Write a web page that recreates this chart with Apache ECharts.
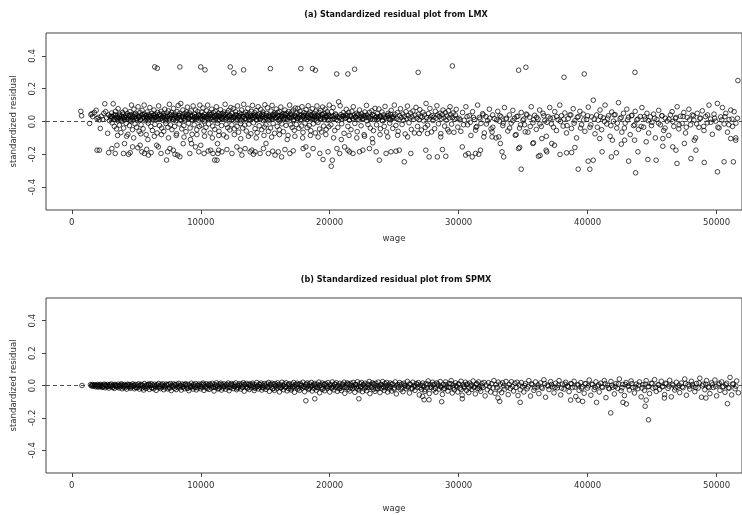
<!DOCTYPE html>
<html>
<head>
<meta charset="utf-8">
<script src="https://cdn.jsdelivr.net/npm/echarts@6/dist/echarts.min.js"></script>
<style>
html, body { margin: 0; padding: 0; background: #fff; }
#chart { width: 742px; height: 515px; }
</style>
</head>
<body>
<div id="chart"></div>
<script>
// axis ticks and titles
var xTicks = [0, 10000, 20000, 30000, 40000, 50000];
var yTicks = [-0.4, -0.2, 0, 0.2, 0.4];
var panelTitles = ['(a) Standardized residual plot from LMX', '(b) Standardized residual plot from SPMX'];

// (a) LMX residuals: [wage, standardized residual]
var lmxBandA = [[700,.062],[760,.035],[1380,-.012],[1480,.042],[1560,.048],[1620,.03],[1750,.055],[1890,.068],[1960,.018],[2050,.025],[2130,.01],[2210,-.042],[2290,.032],[2400,.012],[2480,.05],[2560,.108],[2630,.06],[2700,.022],[2780,-.072],[2850,.04],[2920,.005],[2980,.03],
[3040,.018],[3090,.052],[3130,-.008],[3180,.028],[3210,.108],[3260,.04],[3300,-.03],[3340,.012],[3390,.062],[3430,.022],[3470,-.045],[3510,.034],[3560,.005],[3590,.078],[3640,.024],[3690,-.022],[3720,.045],[3760,.015],[3810,-.068],[3850,.032],[3890,.002],[3930,.055],[3980,.02],[4020,-.04],[4060,.03],[4100,.01],[4140,.07],[4190,.038],[4220,-.012],[4270,.025],[4310,.048],[4350,-.078],[4390,.015],[4430,.032],[4470,-.025],[4510,.06],[4550,.008],[4590,.042],[4630,.1],[4670,.022],[4710,-.05],[4740,.035],[4780,.012],[4820,.075],[4860,.028],[4900,-.015],[4940,.05],[4980,.018],
[5020,-.035],[5060,.04],[5100,.006],[5140,.09],[5180,.025],[5220,-.06],[5250,.03],[5290,.055],[5330,.012],[5370,-.02],[5410,.038],[5450,.068],[5490,.02],[5530,-.045],[5570,.028],[5610,.1],[5650,.045],[5690,.005],[5730,.032],[5770,-.08],[5810,.018],[5850,.058],[5890,.026],[5930,-.01],[5970,.042],[6010,.015],[6050,.085],[6090,.035],[6130,-.03],[6170,.022],[6210,.05],[6250,-.055],[6290,.01],[6330,.038],[6370,.07],[6410,.025],[6450,-.018],[6490,.045],[6530,.012],[6570,.03],[6610,-.07],[6650,.055],[6690,.02],[6730,.095],[6770,.04],[6810,-.025],[6850,.015],[6890,.034],[6930,.062],[6970,-.04],
[7010,.028],[7050,.008],[7090,.048],[7130,-.06],[7170,.022],[7210,.075],[7250,.036],[7290,-.012],[7330,.018],[7370,.052],[7410,.03],[7450,-.035],[7490,.065],[7530,.01],[7570,.105],[7610,.04],[7650,-.02],[7690,.025],[7730,.055],[7770,-.05],[7810,.015],[7850,.038],[7890,.08],[7930,.022],[7970,-.03],[8010,.045],[8050,.005],[8090,.03],[8130,-.075],[8170,.06],[8210,.018],[8250,.098],[8290,.035],[8330,-.015],[8370,.05],[8410,.012],[8450,.11],[8490,.028],[8530,-.045],[8570,.04],[8610,.07],[8650,.02],[8690,-.025],[8730,.048],[8770,.008],[8810,.032],[8850,-.062],[8890,.058],[8930,.025],[8970,.088],
[9010,.04],[9050,-.01],[9090,.02],[9130,.052],[9170,-.04],[9210,.03],[9250,.065],[9290,.012],[9330,-.078],[9370,.035],[9410,.095],[9450,.022],[9490,-.02],[9530,.045],[9570,.015],[9610,.07],[9650,.03],[9690,-.05],[9730,.025],[9770,.06],[9810,.008],[9850,.04],[9890,-.03],[9930,.1],[9970,.028]];

var lmxBandB = [[10010,.035],[10050,-.022],[10090,.058],[10130,.015],[10170,.082],[10210,.03],[10250,-.058],[10290,.045],[10330,.01],[10370,.025],[10410,-.035],[10450,.065],[10490,.02],[10530,.1],[10570,.04],[10610,-.015],[10650,.03],[10690,.052],[10730,-.07],[10770,.018],[10810,.042],[10850,.075],[10890,.025],[10930,-.028],[10970,.055],
[11010,.008],[11050,.035],[11090,-.048],[11130,.062],[11170,.02],[11210,.09],[11250,.038],[11290,-.01],[11330,.028],[11370,.05],[11410,-.06],[11450,.012],[11490,.04],[11530,.072],[11570,.022],[11610,-.025],[11650,.048],[11690,.015],[11730,.032],[11770,-.082],[11810,.058],[11850,.025],[11890,.105],[11930,.042],[11970,-.018],
[12010,.02],[12050,.055],[12090,-.038],[12130,.03],[12170,.068],[12210,.01],[12250,-.052],[12290,.036],[12330,.085],[12370,.024],[12410,-.02],[12450,.048],[12490,.014],[12530,.078],[12570,.032],[12610,-.045],[12650,.026],[12690,.06],[12730,.004],[12770,.04],[12810,-.03],[12850,.095],[12890,.028],[12930,-.065],[12970,.035],
[13010,.052],[13050,.016],[13090,-.012],[13130,.044],[13170,.07],[13210,.022],[13250,-.04],[13290,.03],[13330,.105],[13370,.045],[13410,-.022],[13450,.018],[13490,.056],[13530,-.058],[13570,.012],[13610,.038],[13650,.08],[13690,.026],[13730,-.016],[13770,.048],[13810,.01],[13850,.032],[13890,-.075],[13930,.062],[13970,.02],
[14010,.098],[14050,.036],[14090,-.008],[14130,.024],[14170,.054],[14210,-.044],[14250,.03],[14290,.066],[14330,.014],[14370,-.068],[14410,.04],[14450,.09],[14490,.022],[14530,-.026],[14570,.046],[14610,.012],[14650,.074],[14690,.034],[14730,-.05],[14770,.028],[14810,.058],[14850,.006],[14890,.042],[14930,-.034],[14970,.102],
[15010,.026],[15050,-.02],[15090,.05],[15130,.016],[15170,.084],[15210,.03],[15250,-.06],[15290,.038],[15330,.01],[15370,.028],[15410,-.04],[15450,.064],[15490,.022],[15530,.098],[15570,.04],[15610,-.012],[15650,.032],[15690,.052],[15730,-.072],[15770,.02],[15810,.044],[15850,.076],[15890,.024],[15930,-.03],[15970,.056],
[16010,.01],[16050,.036],[16090,-.05],[16130,.06],[16170,.018],[16210,.088],[16250,.04],[16290,-.014],[16330,.03],[16370,.048],[16410,-.062],[16450,.014],[16490,.042],[16530,.07],[16570,.02],[16610,-.024],[16650,.05],[16690,.016],[16730,.034],[16770,-.085],[16810,.06],[16850,.026],[16890,.1],[16930,.044],[16970,-.02],
[17010,.022],[17050,.058],[17090,-.036],[17130,.028],[17170,.07],[17210,.012],[17250,-.054],[17290,.038],[17330,.082],[17370,.026],[17410,-.018],[17450,.05],[17490,.016],[17530,.08],[17570,.03],[17610,-.042],[17650,.024],[17690,.062],[17730,.006],[17770,.04],[17810,-.028],[17850,.09],[17890,.03],[17930,-.066],[17970,.036],
[18010,.054],[18050,.018],[18090,-.01],[18130,.046],[18170,.072],[18210,.024],[18250,-.038],[18290,.032],[18330,.096],[18370,.046],[18410,-.024],[18450,.02],[18490,.058],[18530,-.056],[18570,.014],[18610,.04],[18650,.078],[18690,.028],[18730,-.014],[18770,.05],[18810,.012],[18850,.034],[18890,-.07],[18930,.064],[18970,.022],
[19010,.095],[19050,.038],[19090,-.006],[19130,.026],[19170,.056],[19210,-.046],[19250,.032],[19290,.068],[19330,.016],[19370,-.064],[19410,.042],[19450,.088],[19490,.024],[19530,-.028],[19570,.048],[19610,.014],[19650,.076],[19690,.036],[19730,-.048],[19770,.03],[19810,.06],[19850,.008],[19890,.044],[19930,-.032],[19970,.1]];

var lmxBandC = [[20030,.03],[20090,-.02],[20150,.06],[20210,.014],[20270,.085],[20330,.034],[20390,-.055],[20450,.046],[20510,.012],[20570,.028],[20630,-.036],[20690,.12],[20750,.022],[20810,.096],[20870,.042],[20930,-.014],[20990,.032],[21050,.054],[21110,-.072],[21170,.018],[21230,.04],[21290,.074],[21350,.026],[21410,-.03],[21470,.056],[21530,.01],[21590,.036],[21650,-.05],[21710,.062],[21770,.02],[21830,.09],[21890,.04],[21950,-.012],
[22010,.028],[22070,.05],[22130,-.062],[22190,.014],[22250,.042],[22310,.07],[22370,.024],[22430,-.026],[22490,.046],[22550,.016],[22610,.034],[22670,-.08],[22730,.058],[22790,.024],[22850,.098],[22910,.04],[22970,-.018],[23030,.022],[23090,.056],[23150,-.04],[23210,.03],[23270,.066],[23330,.012],[23390,-.056],[23450,.036],[23510,.08],[23570,.022],[23630,-.02],[23690,.048],[23750,.014],[23810,.076],[23870,.03],[23930,-.044],[23990,.026],
[24050,.058],[24110,.004],[24170,.04],[24230,-.03],[24290,.092],[24350,.028],[24410,-.064],[24470,.034],[24530,.05],[24590,.016],[24650,-.01],[24710,.044],[24770,.068],[24830,.02],[24890,-.042],[24950,.03],[25010,.1],[25070,.044],[25130,-.024],[25190,.018],[25250,.054],[25310,-.06],[25370,.01],[25430,.036],[25490,.078],[25550,.024],[25610,-.018],[25670,.046],[25730,.008],[25790,.03],[25850,-.076],[25910,.06],[25970,.018],
[26030,.094],[26090,.036],[26150,-.008],[26210,.022],[26270,.052],[26330,-.048],[26390,.028],[26450,.064],[26510,.012],[26570,-.07],[26630,.038],[26690,.086],[26750,.02],[26810,-.03],[26870,.044],[26930,.01],[26990,.072],[27050,.032],[27110,-.052],[27170,.026],[27230,.056],[27290,.004],[27350,.04],[27410,-.036],[27470,.11],[27530,.024],[27590,-.022],[27650,.048],[27710,.014],[27770,.08],[27830,.028],[27890,-.064],[27950,.036],
[28010,.006],[28070,.026],[28130,-.044],[28190,.062],[28250,.02],[28310,.096],[28370,.04],[28430,-.014],[28490,.03],[28550,.05],[28610,-.074],[28670,.016],[28730,.042],[28790,.07],[28850,.022],[28910,-.028],[28970,.054],[29030,.008],[29090,.034],[29150,-.05],[29210,.066],[29270,.022],[29330,.09],[29390,.04],[29450,-.016],[29510,.024],[29570,.052],[29630,-.066],[29690,.014],[29750,.04],[29810,.074],[29870,.018],[29930,-.034]];

var lmxBandD = [[30040,.02],[30170,-.06],[30300,.055],[30430,.008],[30560,.09],[30690,-.02],[30820,.035],[30950,-.085],[31080,.06],[31210,.012],[31340,-.035],[31470,.1],[31600,.025],[31730,-.012],[31860,.048],[31990,-.07],[32120,.03],[32250,.005],[32380,.075],[32510,-.045],[32640,.04],[32770,.018],[32900,-.1],[33030,.062],[33160,.002],[33290,.028],[33420,-.025],[33550,.085],[33680,.014],[33810,-.058],[33940,.04],
[34070,-.01],[34200,.068],[34330,.02],[34460,-.08],[34590,.032],[34720,-.04],[34850,.055],[34980,.008],[35110,-.02],[35240,.045],[35370,-.065],[35500,.026],[35630,.09],[35760,-.008],[35890,.038],[36020,-.048],[36150,.015],[36280,.07],[36410,-.03],[36540,.05],[36670,.004],[36800,-.09],[36930,.03],[37060,.085],[37190,-.015],[37320,.022],[37450,.06],[37580,-.055],[37710,.01],[37840,.1],[37970,.035],
[38100,-.028],[38230,.052],[38360,-.07],[38490,.018],[38620,.04],[38750,-.042],[38880,.078],[39010,.005],[39140,-.1],[39270,.03],[39400,.062],[39530,-.02],[39660,.045],[39790,-.06],[39920,.012],[40050,.088],[40180,-.035],[40310,.028],[40440,.13],[40570,-.075],[40700,.04],[40830,.008],[40960,.07],[41090,-.05],[41220,.022],[41350,.1],[41480,-.015],[41610,.035],[41740,-.09],[41870,.058],
[42000,.002],[42130,.042],[42260,-.04],[42390,.115],[42520,.018],[42650,-.065],[42780,.05],[42910,-.01],[43040,.075],[43170,.026],[43300,-.08],[43430,.038],[43560,-.025],[43690,.062],[43820,.01],[43950,-.048],[44080,.03],[44210,.085],[44340,-.035],[44470,.015],[44600,.05],[44730,-.07],[44860,.028],[44990,-.005],[45120,.045],[45250,-.1],[45380,.012],[45510,.068],[45640,-.02],[45770,.035],[45900,-.055],
[46030,.02],[46160,.002],[46290,-.085],[46420,.04],[46550,.06],[46680,-.03],[46810,.018],[46940,.09],[47070,-.045],[47200,.032],[47330,-.012],[47460,.055],[47590,-.07],[47720,.025],[47850,.075],[47980,-.02],[48110,.04],[48240,.008],[48370,-.1],[48500,.05],[48630,-.035],[48760,.02],[48890,.065],[49020,-.055],[49150,.03],[49280,-.008],[49410,.1],[49540,.015],[49670,-.078],[49800,.045],[49930,.002],
[50060,.11],[50190,-.04],[50320,.028],[50450,.085],[50580,-.015],[50710,.05],[50840,-.065],[50970,.012],[51100,.07],[51230,-.03],[51360,.06],[51490,-.1],[51620,.02],
[30100,.01],[30380,-.02],[30650,.03],[30900,-.005],[31150,.025],[31400,-.03],[31650,.015],[31900,.04],[32150,-.015],[32400,.02],[32650,-.035],[32950,.01],[33200,.035],[33450,-.01],[33700,.02],[33950,-.04],[34200,.005],[34500,.03],[34800,-.02],[35050,.015],[35300,.04],[35550,-.03],[35800,.01],[36050,.025],[36300,-.015],[36600,.035],[36850,-.005],[37100,.02],[37350,-.035],[37600,.03],[37900,0],
[38150,.015],[38400,-.025],[38700,.04],[38950,-.01],[39200,.025],[39450,-.04],[39700,.01],[40000,.035],[40250,-.02],[40500,.015],[40750,-.035],[41000,.03],[41300,0],[41550,.02],[41800,-.025],[42050,.04],[42300,-.01],[42600,.025],[42850,-.04],[43100,.01],[43400,.035],[43650,-.02],[43900,.015],[44150,-.03],[44400,.03],[44700,.005],[44950,-.025],[45200,.02],[45500,-.01],[45750,.035],
[46000,-.04],[46300,.015],[46600,0],[46850,.025],[47100,-.02],[47400,.03],[47650,-.035],[47900,.01],[48200,.035],[48450,-.015],[48700,.02],[49000,-.03],[49300,.04],[49550,-.005],[49850,.02],[50100,-.035],[50400,.01],[50650,.03],[50950,-.02],[51200,.015],[51500,-.01]];

// the dark core of the LMX band
var lmxCore = [[3080,.03],[3230,.012],[3380,.04],[3530,.02],[3680,.035],[3830,.008],[3980,.045],[4130,.025],[4280,.015],[4430,.038],[4580,.002],[4730,.028],[4880,.042],[5030,.018],[5180,.032],[5330,.01],[5480,.044],[5630,.022],[5780,.036],[5930,.005],[6080,.03],[6230,.016],[6380,.04],[6530,.026],[6680,.012],[6830,.046],[6980,.02],[7130,.034],[7280,.004],[7430,.028],
[7580,.018],[7730,.042],[7880,.01],[8030,.032],[8180,.024],[8330,.038],[8480,.006],[8630,.03],[8780,.016],[8930,.044],[9080,.022],[9230,.036],[9380,.008],[9530,.028],[9680,.014],[9830,.04],[9980,.02],[10130,.034],[10280,.002],[10430,.03],[10580,.018],[10730,.042],[10880,.012],[11030,.026],[11180,.038],[11330,.006],[11480,.032],[11630,.02],[11780,.044],[11930,.014],
[12080,.028],[12230,.036],[12380,.01],[12530,.024],[12680,.04],[12830,.016],[12980,.032],[13130,.004],[13280,.03],[13430,.02],[13580,.042],[13730,.012],[13880,.034],[14030,.026],[14180,.038],[14330,.008],[14480,.03],[14630,.018],[14780,.044],[14930,.022],[15080,.036],[15230,.01],[15380,.028],[15530,.014],[15680,.04],[15830,.024],[15980,.032],[16130,.002],[16280,.03],[16430,.018],
[16580,.042],[16730,.01],[16880,.026],[17030,.038],[17180,.006],[17330,.032],[17480,.02],[17630,.044],[17780,.014],[17930,.028],[18080,.036],[18230,.012],[18380,.024],[18530,.04],[18680,.016],[18830,.03],[18980,.004],[19130,.034],[19280,.02],[19430,.042],[19580,.01],[19730,.026],[19880,.036],[20030,.012],[20180,.03],[20330,.018],[20480,.04],[20630,.006],[20780,.028],[20930,.016],
[21080,.034],[21230,.022],[21380,.038],[21530,.008],[21680,.03],[21830,.014],[21980,.026],[22130,.04],[22280,.01],[22430,.032],[22580,.02],[22730,.036],[22880,.004],[23030,.028],[23180,.016],[23330,.042],[23480,.012],[23630,.03],[23780,.022],[23930,.034],[24080,.006],[24230,.026],[24380,.018],[24530,.038],[24680,.01],[24830,.028],[24980,.02]];

var lmxMid = [[3550,-.085],[4250,-.09],[4800,-.1],[5350,-.075],[5900,-.11],[6400,-.09],[6950,-.08],[7500,-.1],[8100,-.085],[8700,-.095],[9200,-.11],[9700,-.08],[10300,-.09],[10900,-.1],[11400,-.085],[12000,-.095],[12600,-.08],[13100,-.105],[13700,-.09],[14300,-.1],[14900,-.085],[15500,-.095],[16100,-.08],[16700,-.11],[17300,-.09],[17900,-.1],[18500,-.085],[19100,-.095],[19700,-.08],[20300,-.1],[20900,-.11],[21500,-.085],[22100,-.1],[22700,-.09],[23300,-.105],[23900,-.08],
[24500,-.094],[25270,-.084],[26040,-.094],[26940,-.073],[27580,-.073],[28610,-.094],[29250,-.063],[31310,-.053],[31950,-.094],[32590,-.063],[33110,-.094],[34390,-.084],[35160,-.063],[36450,-.104],[37220,-.134],[40940,-.104],[41920,-.114],[42870,-.114],[43640,-.114],[44540,-.124],[45830,-.104],[46600,-.155],[47500,-.134],[48270,-.114],[51090,-.104],[51480,-.114]];

var lmxLow = [[1960,-.175],[2140,-.175],[2860,-.19],[3110,-.165],[3370,-.195],[3500,-.145],[4010,-.195],[4090,-.135],[4400,-.2],[4530,-.19],[4710,-.155],[5120,-.16],[5300,-.145],[5430,-.185],[5630,-.195],[5810,-.17],[5940,-.205],[6150,-.19],[6580,-.145],[6710,-.155],[6920,-.195],[7350,-.235],[7430,-.185],[7610,-.165],[7870,-.175],[8000,-.2],[8200,-.205],[8380,-.215],[8640,-.135],[9150,-.195],[9280,-.135],[9590,-.155],[9850,-.185],
[10000,-.145],[10260,-.195],[10570,-.18],[10770,-.175],[10950,-.195],[11080,-.235],[11300,-.135],[11330,-.195],[11390,-.175],[11260,-.236],[11640,-.185],[12030,-.171],[12420,-.195],[12800,-.155],[13060,-.175],[13190,-.205],[13440,-.165],[13830,-.185],[13960,-.175],[14090,-.2],[14210,-.185],[14600,-.195],[14860,-.165],[15060,-.134],[15240,-.195],[15580,-.181],[15760,-.205],[16010,-.185],[16270,-.216],[16530,-.171],[16910,-.195],[17170,-.179],[17940,-.165],[18150,-.155],[18330,-.205],[18710,-.165],[19230,-.195],[19480,-.232],[19870,-.185],
[20120,-.273],[20200,-.236],[20560,-.165],[20770,-.195],[21150,-.155],[21410,-.175],[21540,-.185],[21800,-.195],[22310,-.185],[22570,-.175],[23080,-.165],[23340,-.13],[23600,-.185],[23850,-.236],[24370,-.195],[24750,-.185],[25140,-.181],[25400,-.175],[25780,-.246],[26290,-.195],[27450,-.175],[27710,-.216],[28350,-.216],[28740,-.171],[29000,-.212],
[30280,-.155],[30540,-.205],[30740,-.195],[31050,-.216],[31310,-.195],[31560,-.2],[31690,-.175],[32590,-.094],[33230,-.134],[33360,-.185],[33490,-.216],[34650,-.165],[34730,-.158],[34850,-.291],[35750,-.134],[35800,-.13],[36190,-.212],[36310,-.207],[36780,-.175],[36830,-.185],[37430,-.145],
[37860,-.201],[38370,-.191],[38760,-.189],[39010,-.159],[39270,-.291],[40040,-.242],[40170,-.291],[40430,-.236],[41120,-.185],[41840,-.216],[42230,-.191],[42610,-.138],[43180,-.242],[43720,-.313],[43900,-.185],[44670,-.232],[45310,-.236],[45830,-.151],[46850,-.175],[46930,-.256],[48010,-.226],[48400,-.175],[49040,-.25],[50070,-.307],[50580,-.246],[51300,-.246]];

var lmxHigh = [[6430,.333],[6630,.325],[8380,.333],[10000,.333],[10330,.315],[12290,.333],[12570,.297],[13320,.315],[15400,.323],[17760,.323],[18660,.323],[18890,.313],[20540,.29],[21410,.29],[21930,.319],[26860,.30],[29510,.339],[34650,.313],[35210,.331],[38170,.27],[39740,.29],[43670,.30],[51650,.25]];

// (b) SPMX residuals: [wage, standardized residual]
var spmxBandA = [[790,0],[1450,.005],[1520,-.002],[1580,.006],[1650,.002],[1720,-.004],[1790,.004],[1850,-.008],[1920,0],[1980,.006],[2040,-.01],[2100,.003],[2160,-.006],[2220,.007],[2280,-.002],[2340,-.012],[2400,.004],[2460,-.005],[2520,.008],[2580,-.014],[2640,.001],[2700,-.008],[2760,.006],[2820,-.003],[2880,-.016],[2940,.005],
[3000,-.007],[3060,.009],[3120,-.002],[3180,-.012],[3240,.004],[3300,-.018],[3360,.007],[3420,-.004],[3480,.002],[3540,-.01],[3600,.008],[3660,-.015],[3720,0],[3780,-.007],[3840,.01],[3900,-.02],[3960,.003],[4020,-.005],[4080,.006],[4140,-.013],[4200,.001],[4260,-.022],[4320,.008],[4380,-.004],[4440,-.01],[4500,.005],[4560,-.017],[4620,.002],[4680,-.008],[4740,.01],[4800,-.003],[4860,-.02],[4920,.006],[4980,-.012],
[5050,.004],[5110,-.012],[5180,.01],[5240,-.022],[5310,-.002],[5370,.007],[5440,-.016],[5500,.002],[5570,-.028],[5630,.012],[5700,-.006],[5760,-.018],[5830,.005],[5890,-.01],[5960,.009],[6020,-.024],[6090,-.001],[6150,.011],[6220,-.014],[6280,.003],[6350,-.02],[6410,.008],[6480,-.007],[6540,-.03],[6610,.004],[6670,-.012],[6740,.013],[6800,-.004],[6870,-.019],[6930,.006],
[7000,-.009],[7060,.01],[7130,-.026],[7190,.001],[7260,-.015],[7320,.009],[7390,-.003],[7450,-.021],[7520,.007],[7580,-.011],[7650,.012],[7710,-.031],[7780,.002],[7840,-.008],[7910,.01],[7970,-.017],[8040,.004],[8100,-.025],[8170,.008],[8230,-.005],[8300,.013],[8360,-.014],[8430,0],[8490,-.028],[8560,.009],[8620,-.01],[8690,.005],[8750,-.02],[8820,.011],[8880,-.003],[8950,-.016],
[9010,.007],[9080,-.032],[9140,.002],[9210,-.012],[9270,.014],[9340,-.006],[9400,-.022],[9470,.006],[9530,-.009],[9600,.012],[9660,-.027],[9730,.001],[9790,-.015],[9860,.009],[9920,-.004],[9990,-.02]];

var spmxBandB = [[10050,.008],[10120,-.011],[10180,.015],[10250,-.03],[10310,.003],[10380,-.007],[10440,.011],[10510,-.018],[10570,.005],[10640,-.024],[10700,.01],[10770,-.002],[10830,-.015],[10900,.013],[10960,-.008],[11030,-.034],[11090,.006],[11160,-.012],[11220,.016],[11290,-.004],[11350,-.021],[11420,.009],[11480,-.009],[11550,.014],[11610,-.028],[11680,.002],[11740,-.016],[11810,.01],[11870,-.005],[11940,-.023],
[12000,.007],[12070,-.01],[12130,.015],[12200,-.032],[12260,.004],[12330,-.013],[12390,.012],[12460,-.002],[12520,-.019],[12590,.008],[12650,-.007],[12720,.016],[12780,-.026],[12850,.001],[12910,-.014],[12980,.011],[13040,-.004],[13110,-.022],[13170,.009],[13240,-.011],[13300,.017],[13370,-.035],[13430,.003],[13500,-.008],[13560,.013],[13630,-.017],[13690,.006],[13760,-.025],[13820,.01],[13890,-.001],[13950,-.015],
[14020,.014],[14080,-.007],[14150,-.031],[14210,.005],[14280,-.012],[14340,.018],[14410,-.003],[14470,-.021],[14540,.008],[14600,-.01],[14670,.015],[14730,-.028],[14800,.002],[14860,-.016],[14930,.012],
[15000,-.005],[15060,-.024],[15130,.01],[15190,-.012],[15260,.019],[15320,-.036],[15390,.003],[15450,-.009],[15520,.014],[15580,-.02],[15650,.006],[15710,-.03],[15780,.012],[15840,-.002],[15910,-.017],[15970,.016],[16040,-.008],[16100,-.04],[16170,.004],[16230,-.014],[16300,.02],[16360,-.004],[16430,-.026],[16490,.009],[16560,-.011],[16620,.017],[16690,-.033],[16750,.002],[16820,-.019],[16880,.011],[16950,-.006],
[17010,-.028],[17080,.008],[17140,-.012],[17210,.018],[17270,-.042],[17340,.004],[17400,-.01],[17470,.014],[17530,-.022],[17600,.006],[17660,-.03],[17730,.012],[17790,-.001],[17860,-.016],[17920,.02],[17990,-.007],[18050,-.038],[18120,.005],[18180,-.013],[18250,.016],[18310,-.003],[18380,-.025],[18440,.01],[18510,-.009],[18570,.019],[18640,-.034],[18700,.001],[18770,-.018],[18830,.013],[18900,-.005],[18960,-.029],
[19030,.008],[19090,-.014],[19160,.021],[19220,-.045],[19290,.003],[19350,-.011],[19420,.015],[19480,-.021],[19550,.007],[19610,-.032],[19680,.012],[19740,-.002],[19810,-.017],[19870,.018],[19940,-.008]];

var spmxBandC = [[20000,-.04],[20070,.005],[20130,-.015],[20200,.022],[20260,-.004],[20330,-.027],[20390,.01],[20460,-.01],[20520,.017],[20590,-.036],[20650,.002],[20720,-.02],[20780,.013],[20850,-.006],[20910,-.031],[20980,.009],[21040,-.013],[21110,.02],[21170,-.048],[21240,.004],[21300,-.012],[21370,.016],[21430,-.023],[21500,.007],[21560,-.034],[21630,.013],[21690,-.001],[21760,-.018],[21820,.019],[21890,-.009],[21950,-.042],
[22020,.006],[22080,-.015],[22150,.023],[22210,-.005],[22280,-.028],[22340,.011],[22410,-.01],[22470,.018],[22540,-.038],[22600,.002],[22670,-.021],[22730,.014],[22800,-.006],[22860,-.032],[22930,.009],[22990,-.014],[23060,.025],[23120,-.05],[23190,.004],[23250,-.012],[23320,.017],[23380,-.024],[23450,.008],[23510,-.036],[23580,.014],[23640,-.002],[23710,-.019],[23770,.021],[23840,-.009],[23900,-.044],[23970,.006],
[24030,-.016],[24100,.024],[24160,-.005],[24230,-.03],[24290,.012],[24360,-.011],[24420,.019],[24490,-.04],[24550,.003],[24620,-.022],[24680,.015],[24750,-.007],[24810,-.034],[24880,.01],
[25000,-.015],[25080,.022],[25170,-.052],[25250,.005],[25340,-.012],[25420,.018],[25510,-.026],[25590,.008],[25680,-.038],[25760,.014],[25850,-.002],[25930,-.02],[26020,.025],[26100,-.009],[26190,-.046],[26270,.006],[26360,-.016],[26440,.02],[26530,-.005],[26610,-.03],[26700,.012],[26780,-.012],[26870,.018],[26950,-.058],
[27040,.003],[27120,-.024],[27210,.015],[27290,-.007],[27380,-.036],[27460,.01],[27550,-.015],[27630,.028],[27720,-.05],[27800,.004],[27890,-.013],[27970,.02],[28060,-.028],[28140,.008],[28230,-.042],[28310,.016],[28400,-.002],[28480,-.022],[28570,.024],[28650,-.01],[28740,-.055],[28820,.006],[28910,-.018],[28990,.022],
[29080,-.006],[29160,-.034],[29250,.012],[29330,-.012],[29420,.03],[29500,-.046],[29590,.002],[29670,-.026],[29760,.016],[29840,-.008],[29930,-.04]];

var spmxBandD = [[30010,.01],[30100,-.016],[30180,.026],[30270,-.06],[30350,.005],[30440,-.014],[30520,.02],[30610,-.03],[30690,.009],[30780,-.044],[30860,.015],[30950,-.003],[31030,-.024],[31120,.028],[31200,-.01],[31290,-.052],[31370,.006],[31460,-.018],[31540,.022],[31630,-.006],[31710,-.036],[31800,.013],[31880,-.012],[31970,.019],
[32050,-.064],[32140,.003],[32220,-.026],[32310,.017],[32390,-.008],[32480,-.04],[32560,.011],[32650,-.015],[32730,.03],[32820,-.048],[32900,.005],[32990,-.014],[33070,.021],[33160,-.028],[33240,.009],[33330,-.044],[33410,.017],[33500,-.002],[33580,-.022],[33670,.025],[33750,-.01],[33840,-.056],[33920,.007],
[34010,-.018],[34090,.023],[34180,-.006],[34260,-.034],[34350,.014],[34430,-.012],[34520,.02],[34600,-.062],[34690,.004],[34770,-.026],[34860,.018],[34940,-.008],
[35050,-.04],[35180,.012],[35310,-.02],[35440,.03],[35570,-.065],[35700,.005],[35830,-.03],[35960,.022],[36090,-.01],[36220,-.05],[36350,.016],[36480,-.018],[36610,.035],[36740,-.072],[36870,.002],[37000,-.025],[37130,.024],[37260,-.008],[37390,-.045],[37520,.014],[37650,-.015],[37780,.03],[37910,-.058],
[38040,.008],[38170,-.022],[38300,.02],[38430,-.004],[38560,-.038],[38690,.012],[38820,-.012],[38950,.026],[39080,-.068],[39210,.004],[39340,-.03],[39470,.018],[39600,-.008],[39730,-.048],[39860,.01],[39990,-.016],
[40120,.034],[40250,-.06],[40380,.006],[40510,-.026],[40640,.022],[40770,-.005],[40900,-.04],[41030,.014],[41160,-.012],[41290,.03],[41420,-.075],[41550,.002],[41680,-.02],[41810,.025],[41940,-.01],[42070,-.052],[42200,.012],[42330,-.018],[42460,.04],[42590,-.032],[42720,.006],[42850,-.062],[42980,.018],
[43110,-.004],[43240,-.028],[43370,.028],[43500,-.012],[43630,-.046],[43760,.008],[43890,-.02],[44020,.022],[44150,-.07],[44280,.004],[44410,-.03],[44540,.03],[44670,-.008],[44800,-.05],[44930,.014],[45060,-.016],[45190,.036],[45320,-.036],[45450,.004],[45580,-.024],[45710,.026],[45840,-.006],[45970,-.056],
[46100,.01],[46230,-.018],[46360,.032],[46490,-.07],[46620,.002],[46750,-.028],[46880,.02],[47010,-.01],[47140,-.044],[47270,.015],[47400,-.014],[47530,.04],[47660,-.06],[47790,.006],[47920,-.022],[48050,.026],[48180,-.004],[48310,-.038],[48440,.012],[48570,-.016],[48700,.045],[48830,-.072],[48960,.008],
[49090,-.026],[49220,.03],[49350,-.008],[49480,-.05],[49610,.016],[49740,-.012],[49870,.034],[50000,-.064],[50130,.004],[50260,-.03],[50390,.022],[50520,-.006],[50650,-.042],[50780,.014],[50910,-.014],[51040,.05],[51170,-.058],[51300,.008],[51430,-.02],[51560,.028],[51690,-.045],
[35120,0],[35380,-.008],[35640,.01],[35900,-.015],[36160,.004],[36420,-.01],[36680,.012],[36940,-.004],[37200,.006],[37460,-.012],[37720,.002],[37980,-.016],[38240,.008],[38500,-.006],[38760,.01],[39020,-.01],[39280,.004],[39540,-.018],[39800,.012],[40060,-.002],[40320,.008],[40580,-.012],[40840,.004],[41100,-.008],[41360,.012],[41620,-.016],[41880,.002],
[42140,-.006],[42400,.01],[42660,-.014],[42920,.006],[43180,-.004],[43440,.012],[43700,-.01],[43960,.002],[44220,-.016],[44480,.008],[44740,-.006],[45000,.012],[45260,-.012],[45520,.004],[45780,-.008],[46040,.014],[46300,-.004],[46560,.008],[46820,-.014],[47080,.002],[47340,-.008],[47600,.012],[47860,-.004],
[48120,.006],[48380,-.012],[48640,.016],[48900,-.002],[49160,.008],[49420,-.014],[49680,.004],[49940,-.006],[50200,.014],[50460,-.01],[50720,.004],[50980,-.016],[51240,.01],[51500,-.004]];

// the dark core of the SPMX band
var spmxCore = [[1600,-.003],[1800,.002],[2000,-.005],[2200,.001],[2400,-.008],[2600,.003],[2800,-.006],[3000,.002],[3200,-.009],[3400,0],[3600,-.005],[3800,.004],[4000,-.011],[4200,-.002],[4400,.005],[4600,-.008],[4800,.001],[5000,-.013],[5200,-.003],[5400,.004],[5600,-.01],[5800,-.001],[6000,.006],[6200,-.015],[6400,-.004],[6600,.003],[6800,-.011],[7000,.001],[7200,-.007],[7400,.005],
[7600,-.016],[7800,-.003],[8000,.004],[8200,-.012],[8400,0],[8600,-.008],[8800,.006],[9000,-.017],[9200,-.004],[9400,.003],[9600,-.013],[9800,.001],[10000,-.006],[10200,.007],[10400,-.015],[10600,-.002],[10800,.004],[11000,-.011],[11200,0],[11400,-.018],[11600,.006],[11800,-.007],[12000,.002],[12200,-.013],[12400,.005],[12600,-.004],[12800,-.016],[13000,.003],[13200,-.009],[13400,.007],
[13600,-.012],[13800,-.001],[14000,.005],[14200,-.017],[14400,-.005],[14600,.004],[14800,-.011],[15000,.002],[15200,-.008],[15400,.008],[15600,-.019],[15800,-.003],[16000,.005],[16200,-.013],[16400,.001],[16600,-.009],[16800,.007],[17000,-.02],[17200,-.004],[17400,.004],[17600,-.014],[17800,.002],[18000,-.007],[18200,.008],[18400,-.018],[18600,-.002],[18800,.005],[19000,-.012],[19200,0],[19400,-.022],
[19600,.006],[19800,-.008],[20000,.003],[20200,-.015],[20400,.007],[20600,-.005],[20800,-.019],[21000,.004],[21200,-.01],[21400,.009],[21600,-.014],[21800,-.001],[22000,.006],[22200,-.021],[22400,-.006],[22600,.005],[22800,-.012],[23000,.002],[23200,-.009],[23400,.01],[23600,-.02],[23800,-.003],[24000,.006],[24200,-.014],[24400,.001],[24600,-.01],[24800,.008],[25000,-.023],[25200,-.004],[25400,.005],
[25600,-.016],[25800,.002],[26000,-.008],[26200,.01],[26400,-.02],[26600,-.002],[26800,.006],[27000,-.013],[27200,.001],[27400,-.025],[27600,.008],[27800,-.009],[28000,.004],[28200,-.017],[28400,.009],[28600,-.005],[28800,-.022],[29000,.005],[29200,-.011],[29400,.011],[29600,-.015],[29800,-.001],[30000,.007],[30200,-.024],[30400,-.006],[30600,.006],[30800,-.014],[31000,.003],[31200,-.01],[31400,.012],[31600,-.021],[31800,-.003]];

var spmxLow = [[18150,-.094],[18840,-.082],[22260,-.082],[27200,-.067],[27320,-.088],[27700,-.088],[28680,-.1],[30280,-.082],[33050,-.077],[33180,-.098],[34770,-.104],[38680,-.09],[39270,-.09],[39610,-.098],[40690,-.104],[41790,-.169],[42740,-.104],[43000,-.114],[44460,-.128],[44540,-.09],[44720,-.212],[45950,-.077],[49170,-.077],[50840,-.112]];

var font = "'Liberation Sans Narrow', 'DejaVu Sans Condensed', 'Liberation Sans', sans-serif";
var panelTops = [33, 298];
var titleTops = [10, 275];

var chart = echarts.init(document.getElementById('chart'));

function makeX(i) {
    return {
        gridIndex: i, type: 'value', min: -2000, max: 51970,
        name: 'wage', nameLocation: 'middle', nameGap: i ? 31 : 24,
        nameTextStyle: { fontFamily: font, fontSize: 9.5, color: '#333' },
        axisLine: { show: false, onZero: false },
        splitLine: { show: false },
        axisTick: { show: true, length: 4, customValues: xTicks, lineStyle: { color: '#444' } },
        axisLabel: { customValues: xTicks, fontFamily: font, fontSize: 9.5, color: '#333', margin: 8,
            formatter: function (v) { return String(v); } }
    };
}

function makeY(i) {
    return {
        gridIndex: i, type: 'value', min: -0.54, max: 0.54,
        name: 'standardized residual', nameLocation: 'middle', nameRotate: 90, nameGap: 27,
        nameTextStyle: { fontFamily: font, fontSize: 9.5, color: '#333' },
        axisLine: { show: false, onZero: false },
        splitLine: { show: false },
        axisTick: { show: true, length: 4, customValues: yTicks, lineStyle: { color: '#444' } },
        axisLabel: { customValues: yTicks, rotate: 90, fontFamily: font, fontSize: 9.5, color: '#333', margin: 8,
            formatter: function (v) { return v.toFixed(1); } }
    };
}

function dots(i, data) {
    return {
        type: 'scatter', xAxisIndex: i, yAxisIndex: i, data: data,
        symbol: 'circle', symbolSize: 4.6, silent: true,
        itemStyle: { color: 'rgba(0,0,0,0)', borderColor: '#000', borderWidth: 0.9 }
    };
}

function zeroLine(i) {
    return {
        type: 'scatter', xAxisIndex: i, yAxisIndex: i, data: [],
        markLine: {
            silent: true, symbol: 'none', label: { show: false }, animation: false,
            lineStyle: { type: [4, 3], color: '#222', width: 0.8 },
            data: [{ yAxis: 0 }]
        }
    };
}

chart.setOption({
    animation: false,
    backgroundColor: '#fff',
    title: panelTitles.map(function (t, i) {
        return { text: t, left: 396, top: titleTops[i], textAlign: 'center', padding: 0,
            textStyle: { fontFamily: font, fontSize: 9, fontWeight: 'bold', color: '#111' } };
    }),
    grid: panelTops.map(function (top) {
        return { left: 46, right: -4, top: top, height: 177, show: true, borderColor: '#444', borderWidth: 1 };
    }),
    xAxis: [makeX(0), makeX(1)],
    yAxis: [makeY(0), makeY(1)],
    series: [
        zeroLine(0),
        dots(0, lmxBandA.concat(lmxBandB, lmxBandC, lmxBandD)),
        dots(0, lmxCore),
        dots(0, lmxMid),
        dots(0, lmxLow),
        dots(0, lmxHigh),
        zeroLine(1),
        dots(1, spmxBandA.concat(spmxBandB, spmxBandC, spmxBandD)),
        dots(1, spmxCore),
        dots(1, spmxLow)
    ]
});
</script>
</body>
</html>
